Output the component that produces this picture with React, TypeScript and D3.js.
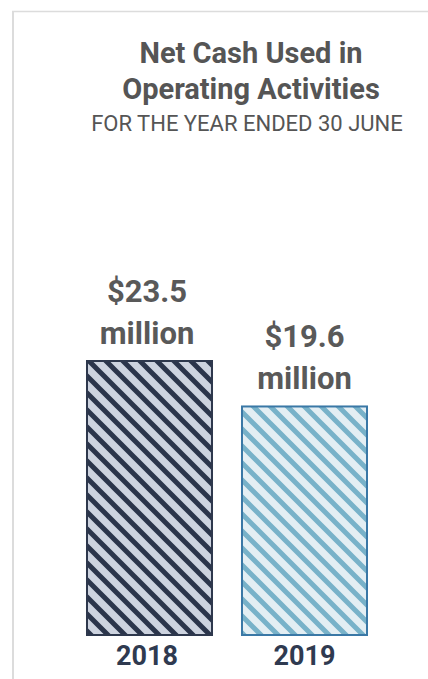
import React from "react";
import * as d3 from "d3";

const years = ["2018", "2019"];
const values = [23.5, 19.6];
const valueLabels = ["$23.5", "$19.6"];
const titleLines = ["Net Cash Used in", "Operating Activities"];
const subtitle = "FOR THE YEAR ENDED 30 JUNE";

const fills = ["#cdd3df", "#e3eef3"];
const stripes = ["#2b354b", "#78b2c9"];
const strokes = ["#2e384d", "#3a78a6"];

const W = 428;
const H = 679;

export default function App() {
  const x = d3.scaleBand<string>().domain(years).range([71.5, 382.5]).paddingInner(0.1935).paddingOuter(0.1);
  const y = d3.scaleLinear().domain([0, 23.5]).range([635, 361]);
  const P = 17;

  return (
    <svg
      width={W}
      height={H}
      style={{ position: "fixed", left: 0, top: 0, fontFamily: "Roboto, sans-serif" }}
    >
      <defs>
        {years.map((yr, i) => (
          <pattern
            key={yr}
            id={`stripe-${i}`}
            patternUnits="userSpaceOnUse"
            width={P}
            height={P}
          >
            <rect width={P} height={P} fill={fills[i]} />
            <path
              d={`M${-P},0 L${P},${2 * P} M0,${-P} L${2 * P},${P} M${-P},${-P} L${2 * P},${2 * P}`}
              stroke={stripes[i]}
              strokeWidth={5}
            />
          </pattern>
        ))}
      </defs>
      <rect x={0} y={0} width={W} height={H} fill="#fff" />
      <line x1={12} y1={11.5} x2={W} y2={11.5} stroke="#dcdcdc" strokeWidth={1.5} />
      <line x1={13} y1={11} x2={13} y2={H} stroke="#dcdcdc" strokeWidth={2} />

      <g fill="#555" textAnchor="middle" fontWeight={700} fontSize={29}>
        {titleLines.map((t, i) => (
          <text key={t} x={251} y={63 + i * 36}>
            {t}
          </text>
        ))}
      </g>
      <text x={247} y={131} textAnchor="middle" fill="#555" fontSize={22}>
        {subtitle}
      </text>

      {years.map((yr, i) => {
        const bx = x(yr)!;
        const bw = x.bandwidth();
        const cx = bx + bw / 2 - (i === 0 ? 2.5 : 0);
        const top = y(values[i]);
        return (
          <g key={yr}>
            <rect
              x={bx}
              y={top}
              width={bw}
              height={y(0) - top}
              fill={`url(#stripe-${i})`}
              stroke={strokes[i]}
              strokeWidth={2}
            />
            <text x={cx} y={top - 59} textAnchor="middle" fill="#595959" fontWeight={700} fontSize={31}>
              {valueLabels[i]}
            </text>
            <text x={cx} y={top - 17} textAnchor="middle" fill="#595959" fontWeight={700} fontSize={31}>
              million
            </text>
            <text x={cx} y={665} textAnchor="middle" fill="#2f3a50" fontWeight={700} fontSize={27}>
              {yr}
            </text>
          </g>
        );
      })}
    </svg>
  );
}
